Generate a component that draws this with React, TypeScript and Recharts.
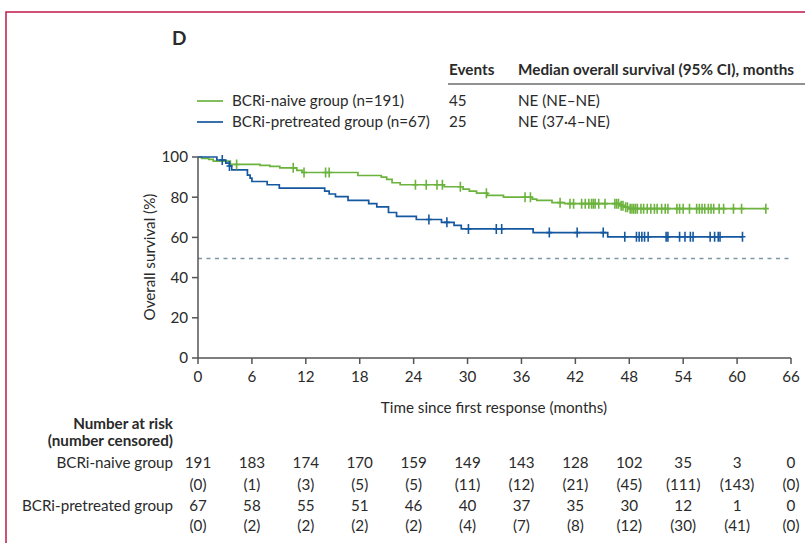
import { ComposedChart, Line, Scatter, XAxis, YAxis, ReferenceLine } from 'recharts';

// months / overall survival (%)
const naiveTimes = [0, 0.4, 1.2, 1.7, 3.6, 6.9, 8.0, 9.1, 11.0, 11.6, 17.8, 20.4, 21.0, 21.6, 22.5, 27.4, 29.5, 30.2, 31.0, 32.2, 34.0, 37.2, 37.7, 39.4, 40.8, 47.0, 47.5, 48.0, 63.2];
const naiveSurv = [100, 99.3, 98.8, 97.9, 96.3, 95.8, 95.3, 94.6, 93.3, 92.3, 90.8, 90.0, 88.9, 87.2, 86.2, 85.2, 84.0, 83.0, 82.0, 80.9, 80.0, 79.0, 78.4, 77.3, 76.8, 75.8, 75.0, 74.3, 74.3];
const naiveCensored = [4.3, 10.6, 11.8, 14.2, 14.6, 24.2, 25.4, 26.6, 27.2, 29.2, 32.1, 36.4, 37.0, 40.3, 41.4, 41.8, 42.7, 43.1, 43.5, 43.8, 44.0, 44.2, 44.6, 45.3, 46.4, 46.6, 46.8, 47.1, 47.3, 47.6, 47.8, 48.1, 48.3, 48.5, 48.7, 48.9, 49.3, 49.6, 50.0, 50.4, 50.8, 51.1, 51.6, 52.0, 52.3, 53.3, 53.6, 54.0, 54.7, 55.5, 55.8, 56.1, 56.4, 56.8, 57.1, 57.4, 58.0, 58.5, 59.6, 60.5, 63.2];

const pretreatedTimes = [0, 2.1, 3.1, 3.5, 3.75, 5.5, 5.8, 6.0, 7.7, 9.05, 14.1, 14.6, 15.3, 16.7, 19.0, 19.9, 21.2, 22.1, 24.3, 27.1, 28.5, 29.3, 37.3, 45.6, 60.6];
const pretreatedSurv = [100, 98.5, 97.0, 95.5, 93.6, 91.0, 89.5, 87.8, 86.2, 84.5, 83.0, 81.6, 80.3, 78.4, 76.8, 75.2, 72.4, 70.5, 68.9, 67.5, 66.0, 64.2, 62.4, 60.3, 60.3];
const pretreatedCensored = [2.7, 3.5, 25.7, 27.7, 30.1, 33.2, 33.8, 39.1, 42.2, 45.1, 47.5, 48.8, 49.1, 49.4, 49.7, 50.1, 52.1, 52.3, 53.6, 54.2, 54.8, 55.1, 57.0, 57.5, 57.9, 58.1, 60.6];

const xTicks = [0, 6, 12, 18, 24, 30, 36, 42, 48, 54, 60, 66];
const yTicks = [0, 20, 40, 60, 80, 100];
const naiveAtRisk = [191, 183, 174, 170, 159, 149, 143, 128, 102, 35, 3, 0];
const naiveCens = [0, 1, 3, 5, 5, 11, 12, 21, 45, 111, 143, 0];
const pretreatedAtRisk = [67, 58, 55, 51, 46, 40, 37, 35, 30, 12, 1, 0];
const pretreatedCens = [0, 2, 2, 2, 2, 4, 7, 8, 12, 30, 41, 0];

const medianLine = 49.5;

const GREEN = '#6cb33e';
const BLUE = '#15589f';
const TEXT = '#2a2a2a';
const FONT = 'Lato, sans-serif';
const FS = 15.2;

const toPoints = (t: number[], s: number[]) => t.map((x, i) => ({ x, y: s[i] }));

// value of the KM step curve at time t
const survAt = (times: number[], surv: number[], t: number) => {
  let v = surv[0];
  for (let i = 0; i < times.length; i++) if (times[i] <= t) v = surv[i];
  return v;
};

const censorPoints = (c: number[], times: number[], surv: number[]) =>
  c.map((x) => ({ x, y: survAt(times, surv, x) }));

const naiveLine = toPoints(naiveTimes, naiveSurv);
const pretreatedLine = toPoints(pretreatedTimes, pretreatedSurv);
const naiveMarks = censorPoints(naiveCensored, naiveTimes, naiveSurv);
const pretreatedMarks = censorPoints(pretreatedCensored, pretreatedTimes, pretreatedSurv);

const tickMark = (color: string) => (props: any) => {
  const { cx, cy } = props;
  return (
    <g stroke={color} strokeWidth={1.6}>
      <line x1={cx} y1={cy - 5} x2={cx} y2={cy + 5} />
      <line x1={cx - 3} y1={cy} x2={cx + 3} y2={cy} />
    </g>
  );
};

const XTick = (props: any) => {
  const { x, y, payload, index } = props;
  const style = { fontFamily: FONT, fontSize: FS, fill: TEXT };
  return (
    <g textAnchor="middle" style={style}>
      <text x={x} y={y + 16}>{payload.value}</text>
      <text x={x} y={y + 102}>{naiveAtRisk[index]}</text>
      <text x={x} y={y + 124}>({naiveCens[index]})</text>
      <text x={x} y={y + 145}>{pretreatedAtRisk[index]}</text>
      <text x={x} y={y + 165}>({pretreatedCens[index]})</text>
    </g>
  );
};

export default function App() {
  return (
    <div style={{ position: 'absolute', left: 0, top: 0, width: 805, height: 543, background: '#fff', fontFamily: FONT }}>
      <ComposedChart width={805} height={543} margin={{ top: 157, right: 14, bottom: 0, left: 138 }}>
        <XAxis
          dataKey="x"
          type="number"
          domain={[0, 66]}
          ticks={xTicks}
          interval={0}
          height={185}
          tickSize={6}
          tickMargin={2}
          stroke="#555"
          strokeWidth={1.5}
          tick={<XTick />}
          allowDataOverflow
        />
        <YAxis
          dataKey="y"
          type="number"
          domain={[0, 100]}
          ticks={yTicks}
          width={60}
          tickSize={6}
          tickMargin={4}
          stroke="#555"
          strokeWidth={1.5}
          tick={{ fill: TEXT, fontSize: FS, fontFamily: FONT }}
        />
        <ReferenceLine y={medianLine} stroke="#7c98a3" strokeWidth={1.4} strokeDasharray="4 4.5" />
        <Line data={naiveLine} dataKey="y" type="stepAfter" stroke={GREEN} strokeWidth={1.7} dot={false} isAnimationActive={false} />
        <Line data={pretreatedLine} dataKey="y" type="stepAfter" stroke={BLUE} strokeWidth={1.7} dot={false} isAnimationActive={false} />
        <Scatter data={naiveMarks} dataKey="y" shape={tickMark(GREEN)} isAnimationActive={false} />
        <Scatter data={pretreatedMarks} dataKey="y" shape={tickMark(BLUE)} isAnimationActive={false} />
      </ComposedChart>

      <svg width={805} height={543} style={{ position: 'absolute', left: 0, top: 0, pointerEvents: 'none' }} fontFamily={FONT} fill={TEXT}>
        <path d="M6 543 V12 H805" fill="none" stroke="#c0184a" strokeWidth={1.5} />
        <text x={172} y={45} fontSize={19} fontWeight={700}>D</text>

        <text x={449} y={75} fontSize={15.3} fontWeight={700}>Events</text>
        <text x={518} y={75} fontSize={15.3} fontWeight={700}>Median overall survival (95% CI), months</text>
        <line x1={448} y1={84} x2={805} y2={84} stroke="#222" strokeWidth={1} />

        <line x1={197} y1={101} x2={223} y2={101} stroke={GREEN} strokeWidth={1.7} />
        <text x={232} y={106} fontSize={FS}>BCRi-naive group (n=191)</text>
        <text x={449} y={106} fontSize={FS}>45</text>
        <text x={518} y={106} fontSize={FS}>NE (NE–NE)</text>

        <line x1={197} y1={122} x2={223} y2={122} stroke={BLUE} strokeWidth={1.7} />
        <text x={232} y={127} fontSize={FS}>BCRi-pretreated group (n=67)</text>
        <text x={449} y={127} fontSize={FS}>25</text>
        <text x={518} y={127} fontSize={FS}>NE (37·4–NE)</text>

        <text x={149} y={257} fontSize={FS} textAnchor="middle" transform="rotate(-90 149 257)" dominantBaseline="central">Overall survival (%)</text>
        <text x={494} y={413} fontSize={FS} textAnchor="middle">Time since first response (months)</text>

        <g textAnchor="end" fontSize={FS}>
          <text x={173} y={429} fontWeight={700}>Number at risk</text>
          <text x={173} y={446} fontWeight={700}>(number censored)</text>
          <text x={173} y={468}>BCRi-naive group</text>
          <text x={173} y={511}>BCRi-pretreated group</text>
        </g>
      </svg>
    </div>
  );
}
